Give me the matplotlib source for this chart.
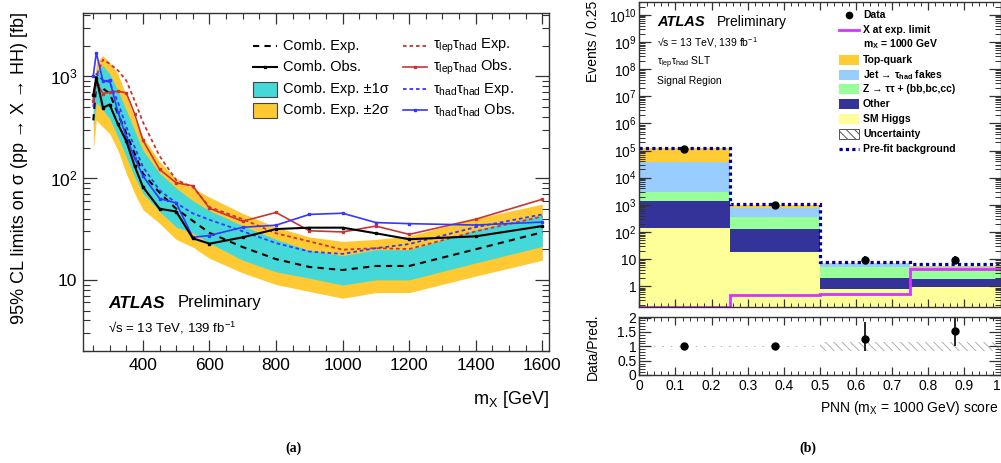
"""
Resonant HH -> bbtautau: limit curves (a) and PNN score distribution (b).
"""

import matplotlib
matplotlib.use('Agg')
import matplotlib.pyplot as plt
import numpy as np
from matplotlib.lines import Line2D
from matplotlib.patches import Rectangle
from matplotlib.ticker import LogLocator, MultipleLocator, NullFormatter, FuncFormatter

W, H = 1001, 463

plt.rcParams['font.family'] = ['Liberation Sans', 'DejaVu Sans']
plt.rcParams['mathtext.fontset'] = 'custom'
plt.rcParams['mathtext.rm'] = 'Liberation Sans'
plt.rcParams['mathtext.it'] = 'Liberation Sans:italic'
plt.rcParams['mathtext.bf'] = 'Liberation Sans:bold'
plt.rcParams['mathtext.default'] = 'regular'
plt.rcParams['hatch.linewidth'] = 0.7

# ---------------- data: panel (a) ----------------
mass = [251, 260, 280, 300, 325, 350, 375, 400, 450, 500, 550, 600,
        700, 800, 900, 1000, 1100, 1200, 1400, 1600]
comb_obs = [661, 970, 493, 528, 339, 232, 132, 82, 50, 47, 25.6, 22.7,
            26.2, 31.6, 32.6, 32.6, 28.7, 25.1, 26.8, 33.8]
comb_exp = [370, 850, 760, 680, 430, 275, 175, 111, 72, 50, 38, 29,
            21, 16, 13.4, 12.5, 13.7, 13.7, 20, 29.4]
band1_lo = [318, 560, 465, 385, 254, 162, 103, 71, 47, 33, 29, 23,
            15.6, 12, 10.4, 8.9, 10, 10, 14.7, 21.3]
band1_hi = [560, 1145, 1280, 1060, 730, 465, 295, 188, 112, 80, 60, 48,
            34, 25, 19.5, 17.3, 19.8, 19.8, 31, 43.4]
band2_lo = [188, 370, 318, 274, 188, 111, 71, 49, 36, 25, 21, 16.3,
            11.7, 9, 7.7, 6.6, 7.5, 7.5, 10.9, 15.6]
band2_hi = [627, 1380, 1600, 1380, 1060, 650, 385, 254, 145, 99, 80, 65,
            45, 33, 26.4, 23.9, 25, 27, 40, 55.6]
lh_exp = [590, 990, 1460, 1330, 1145, 910, 580, 356, 165, 96, 82, 52,
          39.5, 28.7, 23.9, 19.8, 20.5, 20.1, 30, 42]
lh_obs = [573, 880, 677, 702, 713, 690, 431, 236, 122, 90, 84, 50.5,
          37.7, 46, 30.4, 29.6, 33.8, 28, 39.5, 62]
hh_exp = [500, 1060, 913, 880, 560, 318, 203, 129, 76, 57, 45, 39,
          30, 23, 19, 18, 20.5, 22.5, 33, 44]
hh_obs = [1020, 1706, 900, 913, 447, 254, 158, 105, 63, 57, 26.2, 27.3,
          32.9, 34.5, 44, 45.2, 36.6, 35.7, 34.6, 37]

# ---------------- data: panel (b) ----------------
bin_edges = [0.0, 0.25, 0.5, 0.75, 1.0]
sm_higgs = [140, 18, 0.77, 0.97]
other = [1300, 111, 1.2, 0.9]
ztautau = [1560, 231, 3.3, 1.94]
jet_fakes = [35000, 415, 1.2, 1.2]
top_quark = [82000, 192, 0.6, 0.8]
prefit = [1.2e5, 1100, 7.7, 6.7]
signal = [0.1, 0.47, 0.5, 4.4]
data = [1.1e5, 950, 9.4, 9.4]
data_err_lo = [300, 30, 2.9, 2.9]
data_err_hi = [300, 30, 3.8, 3.8]
ratio = [1.0, 1.0, 1.26, 1.54]
ratio_err_lo = [0.005, 0.03, 0.42, 0.53]
ratio_err_hi = [0.005, 0.03, 0.58, 0.46]
unc_lo = [0.98, 0.98, 0.82, 0.82]
unc_hi = [1.02, 1.02, 1.15, 1.15]

CYAN = '#44D8D8'
YELLOW = '#FFC933'
RED = '#CC3333'
BLUE = '#3636FF'
STACK = [('SM Higgs', sm_higgs, '#FFFF99'),
         ('Other', other, '#333399'),
         ('Z', ztautau, '#99FF99'),
         ('Jet', jet_fakes, '#99CCFF'),
         ('Top-quark', top_quark, '#FFCC33')]
SIGNAL_COLOR = '#D633FF'
PREFIT_COLOR = '#000099'
SPINE = '#333333'


def fpos(x, y):
    """pixel position -> figure fraction"""
    return x / W, 1 - y / H


def axes_rect(x0, y0, x1, y1):
    return [x0 / W, 1 - y1 / H, (x1 - x0) / W, (y1 - y0) / H]


def ftext(x, y, s, **kw):
    fx, fy = fpos(x, y)
    return fig.text(fx, fy, s, **kw)


def style_spines(ax):
    for sp in ax.spines.values():
        sp.set_color(SPINE)
        sp.set_linewidth(1.0)


fig = plt.figure(figsize=(W / 100, H / 100), dpi=100)

# ================= panel (a) =================
ax = fig.add_axes(axes_rect(83, 13, 549, 351))
ax.fill_between(mass, band2_lo, band2_hi, color=YELLOW, lw=0)
ax.fill_between(mass, band1_lo, band1_hi, color=CYAN, lw=0)
ax.plot(mass, comb_exp, color='k', ls=(0, (3, 2.5)), lw=1.5)
ax.plot(mass, lh_exp, color=RED, ls=(0, (2, 1.6)), lw=1.3)
ax.plot(mass, hh_exp, color=BLUE, ls=(0, (2, 1.6)), lw=1.3)
ax.plot(mass, lh_obs, color=RED, marker='s', ms=1.9, lw=1.2)
ax.plot(mass, hh_obs, color=BLUE, marker='s', ms=1.9, lw=1.2)
ax.plot(mass, comb_obs, color='k', marker='s', ms=1.9, lw=1.5)

ax.set_yscale('log')
ax.set_xlim(220, 1620)
ax.set_ylim(2.0, 4200)
ax.xaxis.set_major_locator(MultipleLocator(200))
ax.xaxis.set_minor_locator(MultipleLocator(50))
ax.set_yticks([10, 100, 1000], ['10', '10$^{2}$', '10$^{3}$'])
ax.yaxis.set_minor_locator(LogLocator(base=10, subs=np.arange(2, 10), numticks=20))
ax.yaxis.set_minor_formatter(NullFormatter())
ax.tick_params(which='both', direction='in', top=True, right=True, colors=SPINE,
               labelcolor='k', labelsize=12.5)
ax.tick_params(axis='y', which='major', length=10, width=0.9, pad=4)
ax.tick_params(axis='y', which='minor', length=5, width=0.8)
ax.tick_params(axis='x', which='major', length=8, width=0.9, pad=5)
ax.tick_params(axis='x', which='minor', length=4.5, width=0.8)
style_spines(ax)

ftext(20, 12, '95% CL limits on σ (pp → X → HH) [fb]', rotation=90,
      ha='center', va='top', fontsize=13)
ftext(549, 400, 'm$_{\\mathrm{X}}$ [GeV]', ha='right', va='center', fontsize=13)
ftext(108, 303, 'ATLAS', fontsize=12.5, fontweight='bold', style='italic', va='center')
ftext(178, 303, 'Preliminary', fontsize=12, va='center')
ftext(108, 328, '√s = 13 TeV, 139 fb$^{-1}$', fontsize=9.5, va='center')

# hand-placed legend, two columns
leg_rows = [46, 67, 89, 110]
leg_a = [
    (253, leg_rows[0], 'line', dict(color='k', ls=(0, (3, 2.5)), lw=1.5), 'Comb. Exp.'),
    (253, leg_rows[1], 'marker', dict(color='k', lw=1.5), 'Comb. Obs.'),
    (253, leg_rows[2], 'patch', dict(facecolor=CYAN), 'Comb. Exp. ±1σ'),
    (253, leg_rows[3], 'patch', dict(facecolor=YELLOW), 'Comb. Exp. ±2σ'),
    (403, leg_rows[0], 'line', dict(color=RED, ls=(0, (2, 1.6)), lw=1.3),
     '$\\tau_{\\mathrm{lep}}\\tau_{\\mathrm{had}}$ Exp.'),
    (403, leg_rows[1], 'marker', dict(color=RED, lw=1.2),
     '$\\tau_{\\mathrm{lep}}\\tau_{\\mathrm{had}}$ Obs.'),
    (403, leg_rows[2], 'line', dict(color=BLUE, ls=(0, (2, 1.6)), lw=1.3),
     '$\\tau_{\\mathrm{had}}\\tau_{\\mathrm{had}}$ Exp.'),
    (403, leg_rows[3], 'marker', dict(color=BLUE, lw=1.2),
     '$\\tau_{\\mathrm{had}}\\tau_{\\mathrm{had}}$ Obs.'),
]
for x0, y0, kind, kw, label in leg_a:
    xa, ya = fpos(x0, y0)
    xb, _ = fpos(x0 + 24, y0)
    if kind == 'patch':
        fig.add_artist(Rectangle(fpos(x0, y0 + 7.5), 24 / W, 15 / H,
                                 transform=fig.transFigure, edgecolor='#444444',
                                 lw=0.8, **kw))
    else:
        fig.add_artist(Line2D([xa, xb], [ya, ya], transform=fig.transFigure, **kw))
        if kind == 'marker':
            fig.add_artist(Line2D([(xa + xb) / 2], [ya], transform=fig.transFigure,
                                  marker='s', ms=1.9, color=kw['color']))
    ftext(x0 + 30, y0, label, fontsize=10.5, va='center')

ftext(293, 448, '(a)', family='Liberation Serif', fontweight='bold', fontsize=10,
      ha='center', va='center')

# ================= panel (b): main =================
edges = np.array(bin_edges)
centers = 0.5 * (edges[:-1] + edges[1:])
widths = np.diff(edges)
axb = fig.add_axes(axes_rect(639.3, 2, 1000.5, 307.3))
bottom = np.full(len(centers), 1e-3)
for name, vals, col in STACK:
    axb.bar(edges[:-1], vals, width=widths, bottom=bottom, align='edge',
            color=col, lw=0)
    bottom = bottom + np.array(vals)

ymin_b = 0.168
axb.stairs(np.clip(signal, ymin_b * 1.04, None), edges, baseline=None,
           color=SIGNAL_COLOR, lw=2.0)
axb.stairs(prefit, edges, baseline=None, color=PREFIT_COLOR, lw=2.3,
           ls=(0, (1, 1)))
axb.errorbar(centers, data, yerr=[data_err_lo, data_err_hi], fmt='o', color='k',
             ms=5, lw=1.2, capsize=0)

axb.set_yscale('log')
axb.set_xlim(0, 1)
axb.set_ylim(ymin_b, 2.95e10)
decades = [10.0 ** k for k in range(0, 11)]
dec_labels = ['1', '10'] + ['10$^{%d}$' % k for k in range(2, 11)]
axb.set_yticks(decades, dec_labels)
axb.yaxis.set_minor_locator(LogLocator(base=10, subs=np.arange(2, 10), numticks=30))
axb.yaxis.set_minor_formatter(NullFormatter())
axb.xaxis.set_major_locator(MultipleLocator(0.1))
axb.xaxis.set_minor_locator(MultipleLocator(0.02))
axb.tick_params(which='both', direction='in', top=True, right=True, labelbottom=False,
                colors=SPINE, labelcolor='k', labelsize=10)
axb.tick_params(axis='y', which='major', length=8.5, width=0.9, pad=2)
axb.tick_params(axis='y', which='minor', length=4.5, width=0.7)
axb.tick_params(axis='x', which='major', length=5.5, width=0.9)
axb.tick_params(axis='x', which='minor', length=3, width=0.7)
style_spines(axb)

ftext(593, 1, 'Events / 0.25', rotation=90, ha='center', va='top', fontsize=10)

ftext(657, 22, 'ATLAS', fontsize=10.5, fontweight='bold', style='italic', va='center')
ftext(717, 22, 'Preliminary', fontsize=10, va='center')
ftext(657, 43, '√s = 13 TeV, 139 fb$^{-1}$', fontsize=7.5, va='center')
ftext(657, 63, '$\\tau_{\\mathrm{lep}}\\tau_{\\mathrm{had}}$ SLT', fontsize=7.5, va='center')
ftext(657, 81, 'Signal Region', fontsize=7.5, va='center')

# hand-placed legend
leg_b = [
    (15, 'data', None, 'Data'),
    (30, 'line', dict(color=SIGNAL_COLOR, lw=2.0), 'X at exp. limit'),
    (44, None, None, 'm$_{\\mathbf{X}}$ = 1000 GeV'),
    (60, 'patch', STACK[4][2], 'Top-quark'),
    (75, 'patch', STACK[3][2], 'Jet → $\\tau_{\\mathbf{had}}$ fakes'),
    (89, 'patch', STACK[2][2], 'Z → ττ + (bb,bc,cc)'),
    (104, 'patch', STACK[1][2], 'Other'),
    (119, 'patch', STACK[0][2], 'SM Higgs'),
    (134, 'hatch', None, 'Uncertainty'),
    (149, 'line', dict(color=PREFIT_COLOR, lw=2.3, ls=(0, (1, 1))), 'Pre-fit background'),
]
plt.rcParams['mathtext.default'] = 'bf'
for y0, kind, kw, label in leg_b:
    xa, ya = fpos(839, y0)
    xb, _ = fpos(859, y0)
    if kind == 'data':
        fig.add_artist(Line2D([(xa + xb) / 2], [ya], transform=fig.transFigure,
                              marker='o', ms=4.5, color='k'))
    elif kind == 'line':
        fig.add_artist(Line2D([xa, xb], [ya, ya], transform=fig.transFigure, **kw))
    elif kind == 'patch':
        fig.add_artist(Rectangle(fpos(839, y0 + 5), 20 / W, 10 / H,
                                 transform=fig.transFigure, facecolor=kw,
                                 edgecolor='none'))
    elif kind == 'hatch':
        fig.add_artist(Rectangle(fpos(839, y0 + 5), 20 / W, 10 / H,
                                 transform=fig.transFigure, facecolor='white',
                                 edgecolor='#555555', hatch='\\\\\\\\', lw=0.7))
    ftext(863, y0, label, fontsize=7.5, fontweight='bold', va='center')
plt.rcParams['mathtext.default'] = 'regular'

# ================= panel (b): ratio =================
axr = fig.add_axes(axes_rect(639.3, 316.7, 1000.5, 375))
axr.bar(edges[:-1], np.array(unc_hi) - np.array(unc_lo), width=widths, bottom=unc_lo,
        align='edge', facecolor='none', edgecolor='#B0B0B0', hatch='\\\\\\\\', lw=0)
axr.errorbar(centers, ratio, yerr=[ratio_err_lo, ratio_err_hi], fmt='o', color='k',
             ms=5, lw=1.2, capsize=0)
axr.set_xlim(0, 1)
axr.set_ylim(0, 2.03)
axr.xaxis.set_major_locator(MultipleLocator(0.1))
axr.xaxis.set_minor_locator(MultipleLocator(0.02))
axr.yaxis.set_major_locator(MultipleLocator(0.5))
axr.yaxis.set_minor_locator(MultipleLocator(0.1))
g_fmt = FuncFormatter(lambda v, pos: '%g' % round(v, 3))
axr.xaxis.set_major_formatter(g_fmt)
axr.yaxis.set_major_formatter(g_fmt)
axr.tick_params(which='both', direction='in', top=True, right=True,
                colors=SPINE, labelcolor='k', labelsize=10)
axr.tick_params(axis='y', which='major', length=8.5, width=0.9, pad=2)
axr.tick_params(axis='y', which='minor', length=4.5, width=0.7)
axr.tick_params(axis='x', which='major', length=5.5, width=0.9, pad=3)
axr.tick_params(axis='x', which='minor', length=3, width=0.7)
style_spines(axr)

# keep the last x tick label ("1") inside the canvas
fig.canvas.draw()
xlabels = axr.get_xticklabels()
for lab in xlabels:
    if lab.get_text() == '1':
        lab.set_horizontalalignment('right')

ftext(593, 346.7, 'Data/Pred.', rotation=90, ha='center', va='center', fontsize=10)
ftext(998, 408, 'PNN (m$_{\\mathrm{X}}$ = 1000 GeV) score', ha='right', va='center',
      fontsize=10)
ftext(808, 448, '(b)', family='Liberation Serif', fontweight='bold', fontsize=10,
      ha='center', va='center')

fig.savefig('out.png', dpi=100)
